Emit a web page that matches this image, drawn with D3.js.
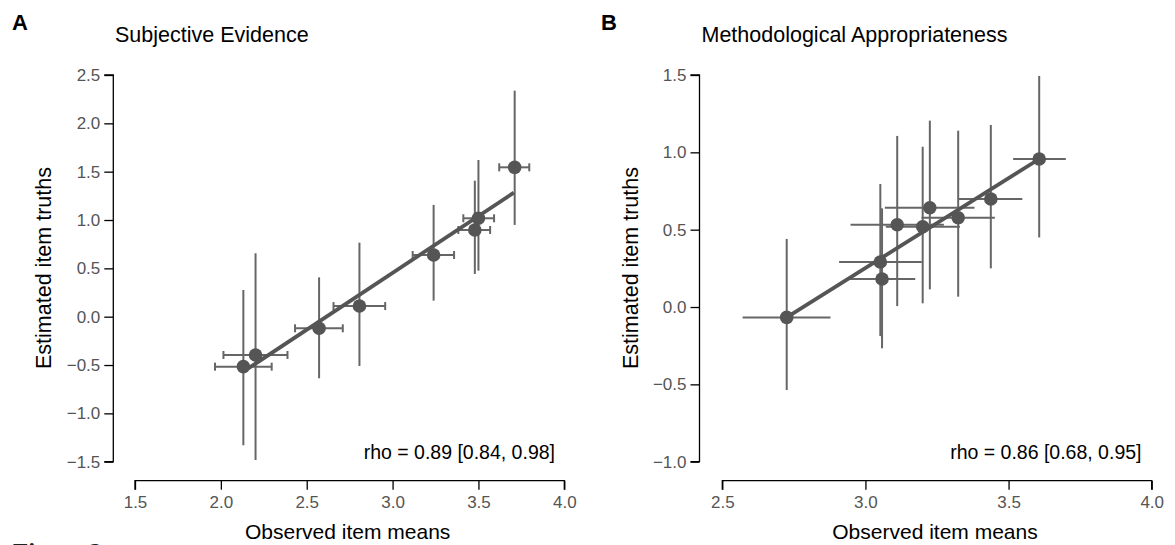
<!DOCTYPE html>
<html>
<head>
<meta charset="utf-8">
<script src="https://cdn.jsdelivr.net/npm/d3@7"></script>
<style>
  body { margin: 0; background: #fff; }
  text { font-family: "Liberation Sans", Arial, sans-serif; }
</style>
</head>
<body>
<script>
// panel A: Subjective Evidence
var obsA    = [2.131, 2.202, 2.572, 2.807, 3.239, 3.479, 3.500, 3.711];
var obsLoA  = [1.966, 2.015, 2.432, 2.656, 3.117, 3.383, 3.412, 3.621];
var obsHiA  = [2.296, 2.388, 2.710, 2.957, 3.358, 3.568, 3.591, 3.796];
var truthA   = [-0.517, -0.396, -0.120, 0.110, 0.638, 0.897, 1.018, 1.545];
var truthLoA = [-1.330, -1.482, -0.637, -0.510, 0.166, 0.442, 0.476, 0.949];
var truthHiA = [0.276, 0.656, 0.407, 0.766, 1.156, 1.407, 1.621, 2.338];
var fitXA = [2.131, 3.706];
var fitYA = [-0.569, 1.283];
var xTicksA = [1.5, 2.0, 2.5, 3.0, 3.5, 4.0];
var yTicksA = [-1.5, -1.0, -0.5, 0.0, 0.5, 1.0, 1.5, 2.0, 2.5];

// panel B: Methodological Appropriateness
var obsB    = [2.725, 3.052, 3.058, 3.111, 3.225, 3.200, 3.324, 3.438, 3.607];
var obsLoB  = [2.571, 2.908, 2.946, 2.948, 3.068, 3.071, 3.196, 3.324, 3.516];
var obsHiB  = [2.878, 3.197, 3.174, 3.274, 3.381, 3.330, 3.452, 3.548, 3.700];
var truthB   = [-0.067, 0.291, 0.181, 0.532, 0.642, 0.519, 0.577, 0.698, 0.957];
var truthLoB = [-0.537, -0.188, -0.267, 0.006, 0.114, 0.024, 0.067, 0.250, 0.450];
var truthHiB = [0.440, 0.795, 0.638, 1.106, 1.205, 1.036, 1.140, 1.177, 1.494];
var fitXB = [2.725, 3.607];
var fitYB = [-0.067, 0.957];
var xTicksB = [2.5, 3.0, 3.5, 4.0];
var yTicksB = [-1.0, -0.5, 0.0, 0.5, 1.0, 1.5];

var width = 1175, height = 545;
var markCol = "#555555", barCol = "#666666", tickCol = "#555555";

var svg = d3.select("body").append("svg")
    .attr("width", width)
    .attr("height", height);

function fmt(v) {
    // R style minus sign
    return d3.format(".1f")(v).replace("-", "\u2212");
}

function panel(opt) {
    var x = d3.scaleLinear().domain(opt.xDomain).range(opt.xRange);
    var y = d3.scaleLinear().domain(opt.yDomain).range([461.7, 75]);
    var g = svg.append("g");

    // panel letter + title
    g.append("text").attr("x", opt.letterX).attr("y", 29.5)
        .style("font-size", "22px").style("font-weight", "bold")
        .text(opt.letter);
    g.append("text").attr("x", opt.titleX).attr("y", 41.5)
        .style("font-size", "21.5px").text(opt.title);

    // x axis (detached, ticks down)
    var xa = g.append("g").attr("transform", "translate(0,480.7)")
        .call(d3.axisBottom(x).tickValues(opt.xTicks).tickSize(9).tickPadding(6).tickFormat(fmt));
    xa.select(".domain").attr("d", "M" + x(opt.xDomain[0]) + ",9V0H" + x(opt.xDomain[1]) + "V9")
        .attr("stroke", "#000").attr("stroke-width", 1.3);
    xa.selectAll(".tick line").attr("stroke", "#000").attr("stroke-width", 1.3);
    xa.selectAll(".tick text").attr("fill", tickCol).style("font-size", "17px")
        .style("font-family", "'Liberation Sans', Arial, sans-serif");

    // y axis
    var ya = g.append("g").attr("transform", "translate(" + opt.yAxisX + ",0)")
        .call(d3.axisLeft(y).tickValues(opt.yTicks).tickSize(9).tickPadding(4).tickFormat(fmt));
    ya.select(".domain").attr("d", "M-9," + y(opt.yDomain[0]) + "H0V" + y(opt.yDomain[1]) + "H-9")
        .attr("stroke", "#000").attr("stroke-width", 1.3);
    ya.selectAll(".tick line").attr("stroke", "#000").attr("stroke-width", 1.3);
    ya.selectAll(".tick text").attr("fill", tickCol).style("font-size", "17px")
        .style("font-family", "'Liberation Sans', Arial, sans-serif");

    // axis titles
    g.append("text").attr("x", (opt.xRange[0] + opt.xRange[1]) / 2 - 2).attr("y", 539)
        .attr("text-anchor", "middle").style("font-size", "21px")
        .text("Observed item means");
    g.append("text")
        .attr("transform", "translate(" + opt.yTitleX + ",268) rotate(-90)")
        .attr("text-anchor", "middle").style("font-size", "21.5px")
        .text("Estimated item truths");

    var idx = d3.range(opt.obs.length);

    // vertical error bars (truth intervals)
    g.selectAll(".vbar").data(idx).enter().append("line")
        .attr("x1", function(i) { return x(opt.obs[i]); })
        .attr("x2", function(i) { return x(opt.obs[i]); })
        .attr("y1", function(i) { return y(opt.tLo[i]); })
        .attr("y2", function(i) { return y(opt.tHi[i]); })
        .attr("stroke", barCol).attr("stroke-width", 2);

    // horizontal error bars (observed intervals)
    g.selectAll(".hbar").data(idx).enter().append("line")
        .attr("x1", function(i) { return x(opt.oLo[i]); })
        .attr("x2", function(i) { return x(opt.oHi[i]); })
        .attr("y1", function(i) { return y(opt.truth[i]); })
        .attr("y2", function(i) { return y(opt.truth[i]); })
        .attr("stroke", barCol).attr("stroke-width", 2);

    if (opt.caps) {
        var ends = [];
        idx.forEach(function(i) {
            ends.push({ v: opt.oLo[i], t: opt.truth[i] });
            ends.push({ v: opt.oHi[i], t: opt.truth[i] });
        });
        g.selectAll(".cap").data(ends).enter().append("line")
            .attr("x1", function(d) { return x(d.v); })
            .attr("x2", function(d) { return x(d.v); })
            .attr("y1", function(d) { return y(d.t) - 4; })
            .attr("y2", function(d) { return y(d.t) + 4; })
            .attr("stroke", barCol).attr("stroke-width", 2);
    }

    // fitted line
    g.append("line")
        .attr("x1", x(opt.fitX[0])).attr("y1", y(opt.fitY[0]))
        .attr("x2", x(opt.fitX[1])).attr("y2", y(opt.fitY[1]))
        .attr("stroke", markCol).attr("stroke-width", 3.8);

    // points
    g.selectAll(".pt").data(idx).enter().append("circle")
        .attr("cx", function(i) { return x(opt.obs[i]); })
        .attr("cy", function(i) { return y(opt.truth[i]); })
        .attr("r", 6.8)
        .attr("fill", markCol);

    g.append("text").attr("x", opt.rhoX).attr("y", 459)
        .attr("text-anchor", "end").style("font-size", "19.5px")
        .text(opt.rho);
}

panel({
    letter: "A", letterX: 12, title: "Subjective Evidence", titleX: 115,
    xDomain: [1.5, 4.0], xRange: [135, 564.3], yDomain: [-1.5, 2.5],
    xTicks: xTicksA, yTicks: yTicksA, yAxisX: 113.3, yTitleX: 51,
    obs: obsA, oLo: obsLoA, oHi: obsHiA, truth: truthA, tLo: truthLoA, tHi: truthHiA,
    fitX: fitXA, fitY: fitYA, caps: true,
    rho: "rho = 0.89 [0.84, 0.98]", rhoX: 555
});

panel({
    letter: "B", letterX: 601, title: "Methodological Appropriateness", titleX: 701.5,
    xDomain: [2.5, 4.0], xRange: [722.3, 1151.7], yDomain: [-1.0, 1.5],
    xTicks: xTicksB, yTicks: yTicksB, yAxisX: 699.5, yTitleX: 638,
    obs: obsB, oLo: obsLoB, oHi: obsHiB, truth: truthB, tLo: truthLoB, tHi: truthHiB,
    fitX: fitXB, fitY: fitYB, caps: false,
    rho: "rho = 0.86 [0.68, 0.95]", rhoX: 1141.5
});

// caption cut off at the page bottom
svg.append("text").attr("x", 13).attr("y", 561)
    .style("font-family", "'Liberation Serif', 'Times New Roman', serif")
    .style("font-size", "25px").style("font-weight", "bold").attr("fill", "#222")
    .text("Figure 2");
</script>
</body>
</html>
